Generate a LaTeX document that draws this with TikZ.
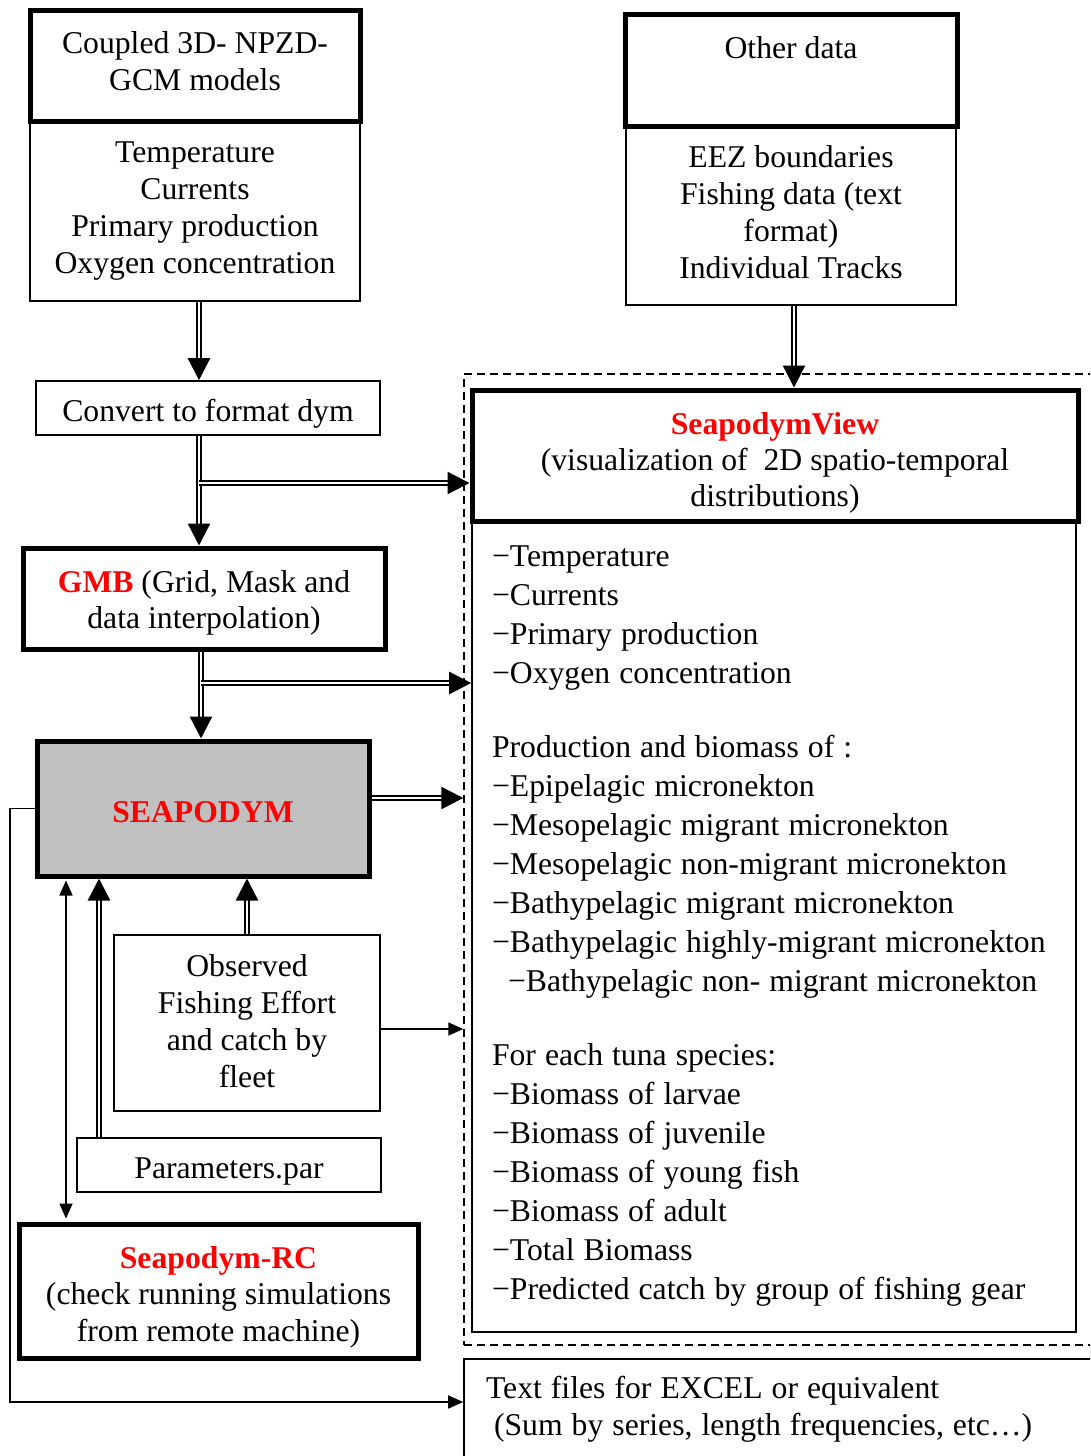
\documentclass[tikz,border=0pt]{standalone}
\usepackage{fontspec}
\setmainfont{Liberation Serif}
\usepackage{xcolor}
\usetikzlibrary{arrows.meta,positioning}
\definecolor{boxgray}{HTML}{C0C0C0}
% invisible struts to nudge text inside its box
\newcommand{\pushdown}[1]{\rule{0pt}{#1}}
\newcommand{\pushup}[1]{\rule[-#1]{0pt}{0pt}}

\begin{document}
\begin{tikzpicture}[x=1pt, y=-1pt,
    every node/.style={font=\fontsize{31.7}{37}\selectfont, inner sep=0pt, align=center},
    thickbox/.style={draw, line width=5pt},
    thinbox/.style={draw, line width=1.6pt},
    listbox/.style={thinbox, align=left, execute at begin node={\spaceskip=0.285em\relax}},
    dbl/.style={draw, line width=2.4pt, double distance=1.6pt, -{Triangle[length=22pt, width=22pt]}},
    thinarr/.style={draw, line width=1.6pt, -{Triangle[length=15pt, width=13pt]}},
    redtitle/.style={text=red, font=\fontsize{31.7}{37}\selectfont\bfseries}]
    \clip (0,0) rectangle (1090,1456);

    % left column
    \node[thinbox, minimum width=330pt, minimum height=180pt] (ModelVars) at (195,211) {Temperature\\Currents\\Primary production\\Oxygen concentration};
    \node[thickbox, minimum width=330pt, minimum height=111pt] (Models) at (195,65.5) {Coupled 3D- NPZD-\\GCM models\pushup{8pt}};
    \node[thinbox, minimum width=344pt, minimum height=54pt] (Convert) at (208,408) {\pushdown{34pt}Convert to format dym};
    \node[thickbox, minimum width=362pt, minimum height=101pt, font=\fontsize{31.7}{36}\selectfont] (GMB) at (204,598.5) {\pushdown{30pt}{\color{red}\bfseries GMB} (Grid, Mask and\\data interpolation)};
    \node[thickbox, fill=boxgray, minimum width=332pt, minimum height=135pt, redtitle] (Seapodym) at (203,808.5) {\pushdown{28pt}SEAPODYM};
    \node[thinbox, minimum width=266pt, minimum height=176pt] (Observed) at (247,1023) {Observed\\Fishing Effort\\and catch by\\fleet\pushup{4pt}};
    \node[thinbox, minimum width=304pt, minimum height=54pt] (Params) at (229,1165) {\pushdown{34pt}Parameters.par};
    \node[thickbox, minimum width=399pt, minimum height=134pt, font=\fontsize{31.7}{36.5}\selectfont] (RC) at (218.5,1291) {\pushdown{34pt}{\color{red}\bfseries Seapodym-RC}\\(check running simulations\\from remote machine)};

    % right column
    \node[thinbox, minimum width=330pt, minimum height=179pt] (OtherVars) at (791,215.5) {EEZ boundaries\\Fishing data (text\\format)\\Individual Tracks\pushup{8pt}};
    \node[thickbox, minimum width=332pt, minimum height=112pt] (Other) at (791,70) {Other data\\\pushup{8pt}};
    \node[draw, dashed, line width=1.4pt, dash pattern=on 8pt off 5pt, minimum width=656pt, minimum height=971pt] (Frame) at (792,859.5) {};
    \node[listbox, minimum width=604pt, minimum height=811pt, text width=564pt, font=\fontsize{31.7}{39}\selectfont] (ViewVars) at (774,926.5) {−Temperature\\−Currents\\−Primary production\\−Oxygen concentration\\[35pt]
        Production and biomass of :\\−Epipelagic micronekton\\−Mesopelagic migrant micronekton\\−Mesopelagic non-migrant micronekton\\−Bathypelagic migrant micronekton\\−Bathypelagic highly-migrant micronekton\\\hspace*{16pt}−Bathypelagic non- migrant micronekton\\[35pt]
        For each tuna species:\\−Biomass of larvae\\−Biomass of juvenile\\−Biomass of young fish\\−Biomass of adult\\−Total Biomass\\−Predicted catch by group of fishing gear};
    \node[thickbox, minimum width=606pt, minimum height=131pt, font=\fontsize{31.7}{36}\selectfont] (View) at (775,455.5) {\pushdown{36pt}{\color{red}\bfseries SeapodymView}\\(visualization of~ 2D spatio-temporal\\distributions)};
    \node[listbox, minimum width=646pt, minimum height=100pt, text width=602pt] (Excel) at (787,1409) {Text files for EXCEL or equivalent\\\hspace*{8pt}(Sum by series, length frequencies, etc…)};

    % connectors
    \coordinate (S1) at (199,483);
    \coordinate (S2) at (201,683);
    \coordinate (S3) at (0,798);
    \coordinate (S4) at (0,1029);
    \coordinate (S5) at (99,0);
    \coordinate (S6) at (66,0);
    \coordinate (S7) at (794,0);
    \coordinate (S8) at (10,1402);
    \draw[dbl] (ModelVars.south -| S1) -- (Convert.north -| S1);
    \draw[dbl] (Convert.south -| S1) -- (GMB.north -| S1);
    \draw[dbl] (S1) -- (S1 -| View.west);
    \draw[dbl] (GMB.south -| S2) -- (Seapodym.north -| S2);
    \draw[dbl] (S2) -- (S2 -| ViewVars.west);
    \draw[dbl] (Seapodym.east |- S3) -- (Frame.west |- S3);
    \draw[dbl] (OtherVars.south -| S7) -- (View.north -| S7);
    \draw[dbl] (Params.north -| S5) -- (Seapodym.south -| S5);
    \draw[dbl] (Observed.north) -- (Observed.north |- Seapodym.south);
    \draw[thinarr] (Observed.east |- S4) -- (Frame.west |- S4);
    \draw[thinarr, {Triangle[length=15pt, width=13pt]}-{Triangle[length=15pt, width=13pt]}, shorten >=3pt, shorten <=2pt] (Seapodym.south -| S6) -- (RC.north -| S6);
    \draw[thinarr] (Seapodym.west) -| (S8) -- (S8 -| Excel.west);
\end{tikzpicture}
\end{document}
